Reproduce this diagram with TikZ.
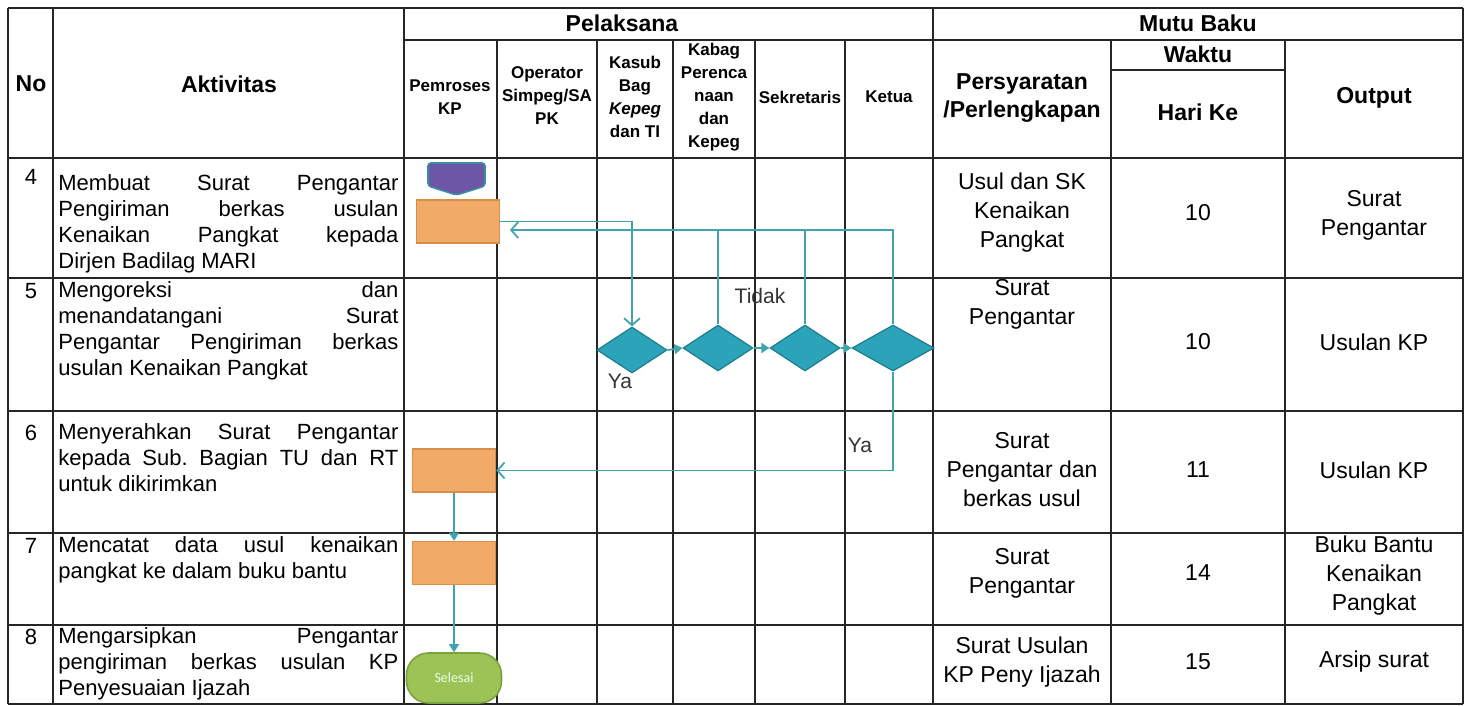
\documentclass[tikz,border=0pt]{standalone}
\usepackage{fontspec}
\setmainfont{Liberation Sans}
\newfontfamily\calibri{Carlito}
\usetikzlibrary{arrows.meta}
\usetikzlibrary{shapes.geometric}
\definecolor{flowline}{RGB}{64,164,172}
\definecolor{decfill}{RGB}{43,163,184}
\definecolor{decline}{RGB}{30,125,140}
\definecolor{procfill}{RGB}{242,170,104}
\definecolor{procline}{RGB}{214,142,74}
\definecolor{pagefill}{RGB}{108,86,165}
\definecolor{pageline}{RGB}{58,140,160}
\definecolor{endfill}{RGB}{155,195,85}
\definecolor{endline}{RGB}{122,162,62}
\tikzset{grid/.style = {line width=0.9pt, black!85}}
\tikzset{hd/.style = {font=\fontsize{11.5}{14}\selectfont\bfseries, align=center}}
\tikzset{subhd/.style = {font=\fontsize{8.5}{11.5}\selectfont\bfseries, align=center}}
\tikzset{akt/.style = {anchor=north west, inner sep=0, text width=170pt, align=justify,
                       font=\fontsize{11}{13}\selectfont\frenchspacing}}
\tikzset{num/.style = {font=\fontsize{11}{13}\selectfont}}
\tikzset{cel/.style = {align=center, font=\fontsize{11.5}{14.5}\selectfont}}
\tikzset{proc/.style = {rectangle, fill=procfill, draw=procline, line width=0.8pt,
                        minimum width=41.5pt, minimum height=21.5pt, inner sep=0}}
\tikzset{dec/.style = {diamond, fill=decfill, draw=decline, line width=0.6pt,
                       minimum width=35pt, minimum height=23pt, inner sep=0}}
\tikzset{term/.style = {rectangle, rounded corners=11pt, fill=endfill, draw=endline,
                        line width=0.8pt, minimum width=47.5pt, minimum height=25pt,
                        text=white!92!green, font=\calibri\fontsize{7}{8}\selectfont}}
\tikzset{flow/.style = {draw=flowline, line width=0.9pt, -{Straight Barb[length=3.5pt,width=8pt]}}}
\tikzset{push/.style = {draw=flowline, line width=0.9pt, -{Triangle[length=4pt,width=5pt]}}}
\tikzset{link/.style = {draw=flowline, line width=0.9pt}}
\tikzset{lbl/.style = {font=\fontsize{10.5}{12}\selectfont, text=black!80}}

\begin{document}
\begin{tikzpicture}[x=0.5pt, y=-0.5pt]
  \useasboundingbox (0,0) rectangle (1472,706);

  % table grid
  \foreach \x in {8, 53, 404, 933, 1463}
    \draw[grid] (\x,8) -- (\x,704);
  \foreach \x in {497, 597, 673, 755, 845, 1111, 1285}
    \draw[grid] (\x,40) -- (\x,704);
  \foreach \y in {8, 158, 278, 411, 533, 625, 704}
    \draw[grid] (8,\y) -- (1463,\y);
  \draw[grid] (404,40) -- (1463,40);
  \draw[grid] (1111,70) -- (1285,70);

  % header
  \node[hd] (hno) at (31,84) {No};
  \node[hd] (hakt) at (229,84) {Aktivitas};
  \node[hd] (hpel) at (622,23) {Pelaksana};
  \node[hd] (hmutu) at (1198,23) {Mutu Baku};
  \node[hd] (hsyarat) at (1022,98) {Persyaratan\\/Perlengkapan};
  \node[hd] (hwaktu) at (1198,54) {Waktu};
  \node[hd] (hhari) at (1198,112) {Hari Ke};
  \node[hd] (hout) at (1374,98) {Output};
  \node[subhd] (hpem) at (450,97) {Pemroses\\KP};
  \node[subhd] (hopr) at (547,96) {Operator\\Simpeg/SA\\PK};
  \node[subhd] (hkasub) at (635,97) {Kasub\\Bag\\\textit{Kepeg}\\dan TI};
  \node[subhd] (hkabag) at (714,97) {Kabag\\Perenca\\naan\\dan\\Kepeg};
  \node[subhd] (hsek) at (800,97) {Sekretaris};
  \node[subhd] (hket) at (889,97) {Ketua};

  % row numbers
  \node[num] (n4) at (31,177) {4};
  \node[num] (n5) at (31,291) {5};
  \node[num] (n6) at (31,433) {6};
  \node[num] (n7) at (31,546) {7};
  \node[num] (n8) at (31,637) {8};

  % activities
  \node[akt] (a4) at (58,174) {Membuat Surat Pengantar\linebreak Pengiriman berkas usulan\linebreak
    Kenaikan Pangkat kepada\linebreak Dirjen Badilag MARI};
  \node[akt] (a5) at (58,281) {Mengoreksi dan\linebreak menandatangani Surat\linebreak
    Pengantar Pengiriman berkas\linebreak usulan Kenaikan Pangkat};
  \node[akt] (a6) at (58,423) {Menyerahkan Surat Pengantar\linebreak kepada Sub. Bagian TU dan RT\linebreak
    untuk dikirimkan};
  \node[akt] (a7) at (58,536) {Mencatat data usul kenaikan\linebreak pangkat ke dalam buku bantu};
  \node[akt] (a8) at (58,627) {Mengarsipkan Pengantar\linebreak pengiriman berkas usulan KP\linebreak
    Penyesuaian Ijazah};

  % persyaratan
  \node[cel] (s4) at (1022,213) {Usul dan SK\\Kenaikan\\Pangkat};
  \node[cel] (s5) at (1022,304) {Surat\\Pengantar};
  \node[cel] (s6) at (1022,470) {Surat\\Pengantar dan\\berkas usul};
  \node[cel] (s7) at (1022,573) {Surat\\Pengantar};
  \node[cel] (s8) at (1022,662) {Surat Usulan\\KP Peny Ijazah};

  % hari ke
  \node[cel] (w4) at (1198,213) {10};
  \node[cel] (w5) at (1198,342) {10};
  \node[cel] (w6) at (1198,470) {11};
  \node[cel] (w7) at (1198,573) {14};
  \node[cel] (w8) at (1198,662) {15};

  % output
  \node[cel] (o4) at (1374,215) {Surat\\Pengantar};
  \node[cel] (o5) at (1374,342) {Usulan KP};
  \node[cel] (o6) at (1374,470) {Usulan KP};
  \node[cel] (o7) at (1374,576) {Buku Bantu\\Kenaikan\\Pangkat};
  \node[cel] (o8) at (1374,662) {Arsip surat};

  % flow shapes
  \draw[fill=pagefill, draw=pageline, line width=0.8pt, rounded corners=1.5pt]
    (428,163) -- (485,163) -- (485,186) -- (456.5,195) -- (428,186) -- cycle; % off-page
  \node[proc] (r4) at (458,221.5) {};
  \node[dec] (d1) at (632,350) {};
  \node[dec] (d2) at (718,348) {};
  \node[dec] (d3) at (805,348) {};
  \node[dec, minimum width=41pt] (d4) at (893,348) {};
  \node[proc] (r6) at (454,470.5) {};
  \node[proc] (r7) at (454,563) {};
  \node[term] (fin) at (454,678) {Selesai};
  \coordinate (tidak) at (510,230);

  % connectors
  \draw[flow] (r4.east) -| (d1.north);
  \draw[push] (d1.east) -- (d2.west);
  \draw[push] (d2.east) -- (d3.west);
  \draw[push] (d3.east) -- (d4.west);
  \draw[flow] (d4.north) |- (tidak);
  \draw[link] (d2.north) -- (d2.north |- tidak);
  \draw[link] (d3.north) -- (d3.north |- tidak);
  \draw[flow] (d4.south) |- (r6.east);
  \draw[push] (r6.south) -- (r7.north);
  \draw[push] (r7.south) -- (fin.north);

  % labels
  \node[lbl] (ltidak) at (760,296) {Tidak};
  \node[lbl] (lya1) at (620,381) {Ya};
  \node[lbl] (lya2) at (860,445) {Ya};
\end{tikzpicture}
\end{document}
